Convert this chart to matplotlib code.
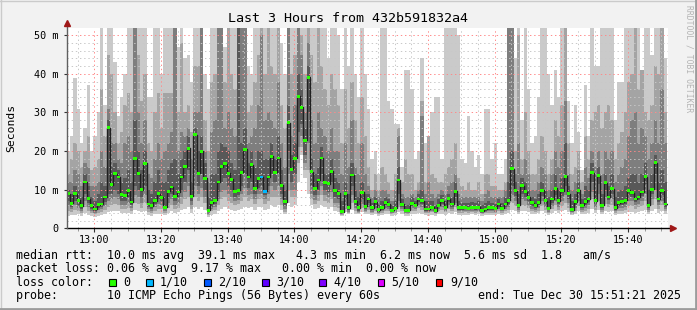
import numpy as np
import matplotlib
matplotlib.use('Agg')
import matplotlib.pyplot as plt
from matplotlib.patches import Rectangle
from matplotlib.lines import Line2D
from matplotlib.ticker import MultipleLocator

plt.rcParams['font.family'] = 'DejaVu Sans Mono'
plt.rcParams['lines.scale_dashes'] = False

# first one-minute sample, in minutes after 13:00
first_sample = -8.3
tick_minutes = [0, 20, 40, 60, 80, 100, 120, 140, 160]
tick_labels = ['13:00', '13:20', '13:40', '14:00', '14:20', '14:40', '15:00', '15:20', '15:40']
y_ticks = [0, 10, 20, 30, 40, 50]
y_labels = ['0', '10 m', '20 m', '30 m', '40 m', '50 m']

# median rtt per sample (ms)
median = [
    9.0, 6.5, 9.0, 7.3, 5.8, 12.0, 7.7, 5.8, 5.0, 6.1, 6.3, 8.1, 26.1, 11.3, 14.1, 13.3, 8.7, 8.4, 9.7, 6.8, 18.0, 14.1, 10.0, 16.8, 6.3, 5.9, 7.2, 9.0, 8.0, 5.5,
    9.6, 10.7, 8.3, 9.4, 13.3, 16.0, 20.7, 8.3, 24.2, 14.2, 20.0, 13.0, 4.7, 6.6, 7.3, 12.0, 16.0, 16.7, 14.2, 12.7, 9.6, 9.9, 14.5, 20.5, 13.3, 16.5, 10.4, 13.0, 13.3, 9.6,
    13.3, 18.7, 14.5, 18.2, 11.2, 6.9, 27.3, 15.3, 18.1, 34.2, 31.4, 22.8, 39.1, 14.6, 10.4, 12.5, 18.2, 11.8, 11.6, 14.8, 9.7, 9.1, 4.3, 9.0, 5.3, 13.8, 7.0, 5.3, 9.3, 5.7,
    7.6, 5.3, 6.9, 4.8, 5.3, 6.7, 6.2, 4.7, 5.2, 12.5, 6.2, 4.7, 4.7, 6.5, 6.0, 7.6, 7.1, 5.0, 5.0, 5.5, 4.6, 6.0, 7.2, 5.5, 7.7, 6.3, 9.6, 5.3, 5.3, 5.5,
    5.2, 5.5, 5.3, 5.5, 4.6, 5.0, 5.3, 5.3, 5.2, 6.3, 5.2, 6.3, 7.3, 15.4, 9.7, 6.0, 11.0, 9.5, 8.0, 6.6, 5.9, 6.6, 9.9, 7.1, 5.2, 7.6, 10.4, 7.1, 9.7, 13.5,
    8.9, 4.8, 6.9, 9.8, 6.0, 6.9, 7.6, 14.4, 7.2, 13.6, 6.0, 11.8, 8.1, 10.3, 5.3, 6.6, 6.9, 7.3, 9.8, 9.2, 7.6, 8.1, 9.4, 13.4, 6.0, 10.1, 17.0, 7.6, 9.7, 6.3,
]

# sorted pings of each sample (ms): 1st..4th and 7th..10th
ping1 = [
    3.2, 3.4, 3.5, 3.6, 3.3, 4.0, 3.5, 3.2, 3.0, 3.3, 3.4, 3.8, 4.2, 4.5, 4.5, 4.6, 4.0, 4.0, 4.0, 3.6, 4.8, 4.6, 4.2, 4.6, 3.5, 3.3, 3.6, 3.8, 3.8, 3.4,
    4.0, 4.6, 4.0, 4.2, 4.8, 5.0, 5.5, 4.0, 5.5, 5.0, 5.5, 4.8, 2.8, 3.5, 3.8, 4.5, 5.0, 5.5, 5.0, 4.8, 4.6, 4.8, 5.0, 5.5, 5.2, 5.5, 4.8, 5.5, 5.5, 4.8,
    5.0, 6.0, 5.5, 6.0, 4.8, 3.8, 6.5, 5.5, 6.0, 12.0, 19.0, 13.0, 9.0, 6.0, 5.0, 5.3, 6.0, 5.5, 5.0, 5.5, 4.5, 4.3, 3.2, 4.2, 3.6, 4.8, 3.8, 3.6, 4.2, 3.8,
    3.8, 3.4, 3.7, 3.3, 3.4, 3.8, 3.6, 3.2, 3.4, 4.2, 3.6, 3.2, 3.2, 3.7, 3.6, 4.0, 3.8, 3.4, 3.3, 3.5, 3.2, 3.6, 3.8, 3.5, 3.9, 3.6, 4.2, 3.4, 3.4, 3.5,
    3.5, 3.6, 3.5, 3.6, 3.3, 3.4, 3.5, 3.5, 3.5, 3.8, 3.5, 3.8, 4.0, 4.8, 4.6, 3.6, 4.6, 4.6, 4.2, 3.8, 3.6, 3.9, 4.5, 4.0, 3.5, 4.0, 4.6, 4.0, 4.5, 4.8,
    4.2, 3.4, 3.8, 4.4, 3.6, 3.8, 4.0, 5.0, 3.9, 4.8, 3.6, 4.5, 4.2, 4.4, 3.5, 3.8, 3.8, 3.9, 4.3, 4.3, 4.0, 4.2, 4.4, 4.8, 3.6, 4.4, 5.0, 4.0, 4.4, 3.8,
]
ping2 = [
    4.5, 4.2, 4.8, 4.5, 4.0, 5.5, 4.6, 4.0, 3.6, 4.0, 4.3, 4.8, 5.5, 6.0, 6.3, 6.0, 5.0, 5.0, 5.2, 4.5, 6.5, 6.2, 5.3, 6.5, 4.3, 4.0, 4.6, 5.0, 5.0, 4.0,
    5.2, 6.0, 5.0, 5.3, 6.3, 7.5, 8.0, 5.0, 8.0, 7.0, 8.0, 6.5, 3.4, 4.4, 4.8, 6.0, 7.5, 8.0, 7.0, 6.5, 6.0, 6.3, 7.0, 8.0, 7.0, 7.5, 6.3, 7.5, 7.5, 6.3,
    7.0, 8.0, 8.0, 8.0, 6.0, 4.3, 10.0, 8.0, 8.0, 17.0, 21.0, 15.0, 15.0, 7.5, 6.2, 7.0, 8.5, 7.0, 6.5, 7.5, 5.5, 5.3, 3.4, 5.0, 4.0, 6.5, 4.5, 4.0, 5.2, 4.2,
    4.8, 3.9, 4.6, 3.7, 4.0, 4.6, 4.4, 3.7, 3.9, 5.5, 4.4, 3.7, 3.7, 4.6, 4.4, 5.2, 4.8, 3.9, 3.9, 4.2, 3.7, 4.4, 4.8, 4.2, 5.0, 4.5, 5.4, 4.0, 4.0, 4.2,
    4.0, 4.2, 4.0, 4.2, 3.7, 3.9, 4.0, 4.0, 4.0, 4.5, 4.0, 4.5, 4.8, 6.5, 5.8, 4.2, 6.0, 5.8, 5.2, 4.5, 4.2, 4.6, 5.8, 4.8, 4.0, 4.9, 6.0, 4.8, 5.8, 6.5,
    5.3, 3.8, 4.6, 5.7, 4.2, 4.6, 5.0, 7.5, 4.8, 7.0, 4.3, 6.3, 5.4, 6.0, 4.0, 4.6, 4.6, 4.8, 5.8, 5.8, 5.1, 5.4, 5.9, 7.0, 4.3, 6.0, 7.5, 5.1, 6.0, 4.5,
]
ping3 = [
    6.0, 5.0, 6.0, 5.3, 4.5, 7.0, 5.5, 4.5, 4.0, 4.7, 5.0, 5.8, 7.0, 7.5, 8.0, 7.5, 6.0, 6.0, 6.5, 5.3, 8.5, 8.0, 6.5, 8.5, 5.0, 4.5, 5.5, 6.2, 6.0, 4.6,
    6.5, 7.5, 6.0, 6.5, 8.0, 9.5, 11.0, 6.0, 11.0, 9.0, 10.5, 8.0, 3.8, 5.0, 5.5, 7.5, 9.5, 10.0, 9.0, 8.0, 7.0, 7.3, 9.0, 10.5, 8.5, 9.0, 7.5, 9.0, 9.0, 7.5,
    9.0, 11.0, 10.0, 11.0, 7.5, 5.0, 14.0, 10.0, 10.0, 21.0, 24.0, 17.0, 22.0, 9.0, 7.3, 8.5, 11.0, 8.5, 8.0, 9.5, 6.5, 6.5, 3.6, 6.0, 4.3, 8.5, 5.2, 4.3, 6.2, 4.6,
    5.6, 4.3, 5.3, 4.0, 4.4, 5.3, 5.0, 4.0, 4.3, 7.0, 5.0, 4.0, 4.0, 5.2, 4.9, 6.0, 5.6, 4.3, 4.3, 4.6, 4.0, 4.9, 5.6, 4.6, 6.0, 5.0, 6.5, 4.4, 4.4, 4.6,
    4.4, 4.6, 4.4, 4.6, 4.0, 4.3, 4.4, 4.4, 4.3, 5.0, 4.4, 5.0, 5.5, 8.5, 7.0, 4.7, 7.5, 7.0, 6.0, 5.1, 4.7, 5.2, 7.0, 5.5, 4.3, 5.7, 7.2, 5.5, 7.0, 8.5,
    6.5, 4.2, 5.3, 7.0, 4.7, 5.3, 6.0, 9.5, 5.6, 9.0, 4.8, 8.0, 6.4, 7.5, 4.4, 5.2, 5.3, 5.6, 7.0, 7.0, 6.0, 6.4, 7.2, 9.0, 4.8, 7.5, 10.0, 6.0, 7.2, 5.0,
]
ping4 = [
    7.0, 5.5, 7.0, 6.0, 5.0, 9.0, 6.5, 5.0, 4.5, 5.3, 5.5, 6.8, 9.0, 9.0, 10.0, 9.0, 7.0, 7.0, 8.0, 6.0, 11.0, 10.0, 8.0, 11.0, 5.5, 5.0, 6.3, 7.5, 7.0, 5.0,
    8.0, 9.0, 7.0, 8.0, 10.0, 12.0, 15.0, 7.0, 15.0, 11.0, 14.0, 10.0, 4.2, 5.5, 6.3, 9.5, 12.0, 13.0, 11.0, 10.0, 8.0, 8.5, 11.0, 14.0, 10.5, 12.0, 9.0, 10.5, 11.0, 8.5,
    11.0, 14.0, 12.0, 14.0, 9.0, 5.8, 20.0, 12.0, 14.0, 25.0, 27.0, 19.0, 30.0, 11.0, 8.5, 10.0, 14.0, 10.0, 9.5, 12.0, 8.0, 7.5, 3.9, 7.5, 4.7, 11.0, 6.0, 4.6, 7.5, 5.0,
    6.5, 4.7, 6.0, 4.3, 4.8, 6.0, 5.6, 4.3, 4.7, 9.0, 5.6, 4.3, 4.3, 5.8, 5.4, 6.8, 6.4, 4.6, 4.6, 5.0, 4.3, 5.4, 6.4, 5.0, 6.9, 5.6, 8.0, 4.8, 4.8, 5.0,
    4.8, 5.0, 4.8, 5.0, 4.3, 4.6, 4.8, 4.8, 4.7, 5.6, 4.8, 5.6, 6.3, 11.0, 8.3, 5.3, 9.0, 8.2, 7.0, 5.8, 5.3, 5.9, 8.4, 6.3, 4.7, 6.6, 8.7, 6.3, 8.4, 11.0,
    7.5, 4.5, 6.0, 8.5, 5.3, 6.0, 6.8, 12.0, 6.4, 11.5, 5.3, 10.0, 7.3, 9.0, 4.8, 5.8, 6.0, 6.4, 8.5, 8.2, 6.8, 7.3, 8.4, 11.5, 5.3, 9.0, 14.0, 6.8, 8.5, 5.6,
]
ping7 = [
    10, 9, 11, 10, 8, 14, 11, 8, 7, 9, 12, 11, 28, 16, 17, 15, 12, 13, 15, 12, 28, 20, 15, 20, 10, 9, 12, 15, 12, 12,
    15, 17, 18, 14, 18, 20, 24, 12, 26, 20, 24, 17, 8, 14, 14, 20, 22, 21, 20, 17, 15, 60, 22, 26, 17, 20, 16, 20, 20, 18,
    18, 22, 18, 24, 15, 10, 32, 19, 22, 40, 36, 26, 42, 18, 14, 16, 21, 14, 14, 18, 13, 12, 7, 12, 9, 17, 10, 8, 12, 9,
    9, 6.5, 8, 6, 7, 8, 7.5, 6, 7, 16, 7.5, 6, 6, 8, 7, 9, 10, 7, 7, 7, 6, 7.5, 8.5, 7, 9, 8, 12, 7, 6.5, 6.5,
    6.5, 6.8, 6.5, 7, 6, 6.5, 7, 6.6, 6.4, 7.5, 6.5, 8, 12, 20, 12, 9, 13, 12, 10, 8, 7.5, 9, 12, 10, 8, 10, 14, 10, 13, 22,
    11, 7, 9, 12, 7.5, 11, 10, 17, 10, 16, 9, 14, 11, 14, 8, 9.5, 10, 11, 13, 14, 14, 12, 14, 17, 10, 14, 19, 12, 15, 12,
]
ping8 = [
    12, 12, 15, 14, 11, 17, 16, 11, 11, 12, 20, 16, 31, 22, 22, 18, 17, 22, 24, 20, 60, 30, 22, 28, 14, 13, 18, 22, 18, 20,
    22, 25, 60, 20, 25, 24, 26, 18, 30, 30, 60, 20, 12, 25, 28, 60, 60, 26, 30, 26, 24, 60, 60, 60, 22, 24, 26, 32, 50, 28,
    30, 28, 26, 38, 22, 16, 60, 24, 32, 60, 45, 30, 48, 28, 22, 30, 26, 24, 20, 26, 20, 20, 14, 22, 16, 28, 16, 14, 22, 14,
    11, 8, 10, 8, 10, 10, 9, 7, 10, 24, 9, 8, 8, 9, 8, 10, 29, 9, 12, 9, 8, 9, 10, 9, 11, 12, 14, 9, 8, 8,
    8, 8, 8, 8, 7, 9, 10, 8, 8, 8, 8, 10, 60, 60, 14, 22, 14, 18, 14, 10, 10, 12, 16, 14, 10, 14, 20, 16, 20, 33,
    14, 10, 12, 15, 9, 16, 13, 20, 16, 20, 14, 20, 18, 20, 12, 14, 16, 18, 24, 28, 30, 22, 26, 24, 18, 22, 28, 22, 36, 22,
]
ping9 = [
    14, 18, 22, 20, 16, 20, 24, 15, 16, 18, 36, 24, 45, 40, 30, 22, 25, 32, 35, 30, 60, 45, 33, 40, 22, 20, 30, 35, 26, 35,
    35, 35, 60, 30, 48, 30, 32, 25, 42, 42, 60, 28, 20, 38, 40, 60, 60, 38, 60, 40, 36, 60, 60, 60, 30, 32, 38, 45, 55, 40,
    60, 42, 40, 60, 32, 26, 60, 40, 45, 60, 50, 40, 55, 45, 38, 60, 42, 36, 32, 40, 36, 32, 22, 36, 26, 38, 28, 22, 34, 24,
    16, 10, 14, 10, 16, 14, 12, 10, 14, 26, 12, 18, 14, 14, 10, 12, 33, 12, 24, 14, 13, 12, 12, 14, 16, 18, 22, 13, 11, 10,
    12, 10, 10, 12, 9, 14, 14, 11, 11, 10, 10, 12, 60, 60, 20, 50, 18, 30, 20, 14, 14, 18, 24, 20, 14, 18, 28, 24, 32, 60,
    22, 14, 16, 20, 12, 24, 18, 28, 30, 32, 26, 30, 32, 28, 18, 22, 25, 30, 38, 40, 60, 36, 41, 30, 28, 32, 42, 40, 60, 30,
]
ping10 = [
    20, 24, 39, 31, 22, 26, 37, 20, 24, 30, 60, 32, 60, 60, 43, 29, 34, 40, 60, 60, 60, 60, 60, 60, 34, 34, 60, 60, 40, 60,
    60, 60, 60, 47, 60, 44, 45, 38, 60, 60, 60, 40, 36, 60, 60, 60, 60, 47, 60, 60, 60, 60, 60, 60, 42, 40, 60, 60, 60, 60,
    60, 60, 60, 60, 48, 40, 60, 60, 60, 60, 60, 60, 60, 60, 60, 60, 60, 60, 44, 60, 60, 50, 36, 60, 42, 60, 40, 34, 60, 40,
    31, 18, 20, 14, 60, 60, 33, 31, 27, 27, 16, 41, 41, 36, 18, 20, 44, 22, 24, 30, 34, 34, 18, 60, 60, 60, 60, 50, 18, 17,
    29, 20, 16, 19, 14, 31, 31, 18, 22, 14, 14, 18, 60, 60, 44, 60, 28, 60, 36, 22, 24, 34, 60, 60, 40, 32, 41, 34, 60, 60,
    33, 22, 32, 25, 15, 37, 24, 60, 42, 42, 60, 60, 60, 60, 28, 38, 38, 60, 60, 60, 60, 60, 41, 60, 60, 45, 60, 60, 60, 44,
]

# lost pings (out of 10) per sample index, all others 0
lost_pings = {58: 1, 59: 1}

loss_names = ['0', '1/10', '2/10', '3/10', '4/10', '5/10', '9/10']
loss_colors = ['#26ff00', '#00b8ff', '#0059ff', '#5e00ff', '#7e00ff', '#dd00ff', '#ff0000']

W, H = 697, 310
fig = plt.figure(figsize=(W / 100, H / 100), dpi=100, facecolor='#f2f2f2')
ax = fig.add_axes([66.7 / W, (H - 228.3) / H, (668 - 66.7) / W, 200 / H])
ax.set_facecolor('white')

edges = first_sample + np.arange(len(median) + 1)


def ext(a):
    a = np.asarray(a, dtype=float)
    return np.append(a, a[-1])


# smoke
bands = [(ping1, ping10, '#cacaca'), (ping2, ping9, '#a4a4a4'),
         (ping3, ping8, '#7e7e7e'), (ping4, ping7, '#585858')]
for lo, hi, col in bands:
    ax.fill_between(edges, ext(lo), ext(hi), step='post', color=col, lw=0, zorder=1)

# median line and loss coloured marks
ax.step(edges, ext(median), where='post', color='#202020', lw=1.0, zorder=3)
mark_colors = [loss_colors[lost_pings.get(i, 0)] for i in range(len(median))]
ax.bar(edges[:-1], 0.75, bottom=np.array(median) - 0.375, width=1, align='edge',
       color=mark_colors, lw=0, zorder=4)

ax.set_xlim(-8.3, 172.0)
ax.set_ylim(0, 51.8)

ax.set_xticks(tick_minutes)
ax.set_xticklabels(tick_labels)
ax.set_yticks(y_ticks)
ax.set_yticklabels(y_labels)
ax.xaxis.set_minor_locator(MultipleLocator(5))
ax.yaxis.set_minor_locator(MultipleLocator(2))
ax.tick_params(axis='both', which='both', labelsize=7.3, colors='black')
ax.tick_params(axis='x', which='major', length=3, pad=1.5, color='#333333')
ax.tick_params(axis='x', which='minor', length=2, color='#888888')
ax.tick_params(axis='y', which='major', length=2, pad=4, color='#333333')
ax.tick_params(axis='y', which='minor', length=0)

ax.set_axisbelow(False)
ax.grid(which='minor', color='#c8c8c8', ls=(0, (1, 2)), lw=0.7)
ax.grid(which='major', color='#ff8a8a', ls=(0, (1, 2)), lw=0.7)

for s in ax.spines.values():
    s.set_visible(False)
ax.plot([0, 1.006], [0, 0], transform=ax.transAxes, color='black', lw=1, clip_on=False, zorder=6)
ax.plot([0, 0], [0, 1.02], transform=ax.transAxes, color='#606060', lw=1, clip_on=False, zorder=6)
ax.plot([1.008], [0], marker='>', ms=4.5, color='#a01818', transform=ax.transAxes, clip_on=False, zorder=7)
ax.plot([0], [1.025], marker='^', ms=4.5, color='#a01818', transform=ax.transAxes, clip_on=False, zorder=7)

ax.set_ylabel('Seconds', fontsize=8.2)
ax.yaxis.set_label_coords(-50 / 601.3, 0.5)


def ftext(x, y, s, **kw):
    fig.text(x / W, 1 - y / H, s, **kw)


ftext(347.5, 18.5, 'Last 3 Hours from 432b591832a4', fontsize=9.6, ha='center', va='center')
ftext(689, 5, 'RRDTOOL / TOBI OETIKER', fontsize=5.8, rotation=270, color='#b4b4b4',
      ha='center', va='top')

legend_size = 8.4
ftext(16, 255, 'median rtt:  10.0 ms avg  39.1 ms max   4.3 ms min  6.2 ms now  5.6 ms sd  1.8   am/s',
      fontsize=legend_size, va='center')
ftext(16, 268.5, 'packet loss: 0.06 % avg  9.17 % max   0.00 % min  0.00 % now',
      fontsize=legend_size, va='center')
ftext(16, 282.3, 'loss color:', fontsize=legend_size, va='center')
ftext(16, 295.8, 'probe:       10 ICMP Echo Pings (56 Bytes) every 60s',
      fontsize=legend_size, va='center')
ftext(478, 295.8, 'end: Tue Dec 30 15:51:21 2025', fontsize=legend_size, va='center')

label_x = [123.3, 160, 218.3, 276, 333.3, 391.7, 450]
for lx, name, col in zip(label_x, loss_names, loss_colors):
    fig.add_artist(Rectangle(((lx - 14) / W, 1 - 285.5 / H), 6.5 / W, 6.5 / H,
                             transform=fig.transFigure, fc=col, ec='black', lw=0.8))
    ftext(lx, 282.3, name, fontsize=legend_size, va='center')

# frame shading
fig.add_artist(Line2D([0, 1], [1 - 0.5 / H, 1 - 0.5 / H], transform=fig.transFigure, color='#cbcbcb', lw=1))
fig.add_artist(Line2D([0.5 / W, 0.5 / W], [0, 1], transform=fig.transFigure, color='#cbcbcb', lw=1))
fig.add_artist(Line2D([0, 1], [1.2 / H, 1.2 / H], transform=fig.transFigure, color='#9c9c9c', lw=2))
fig.add_artist(Line2D([1 - 1.2 / W, 1 - 1.2 / W], [0, 1], transform=fig.transFigure, color='#9c9c9c', lw=2))

fig.savefig('out.png', dpi=100, facecolor=fig.get_facecolor())
